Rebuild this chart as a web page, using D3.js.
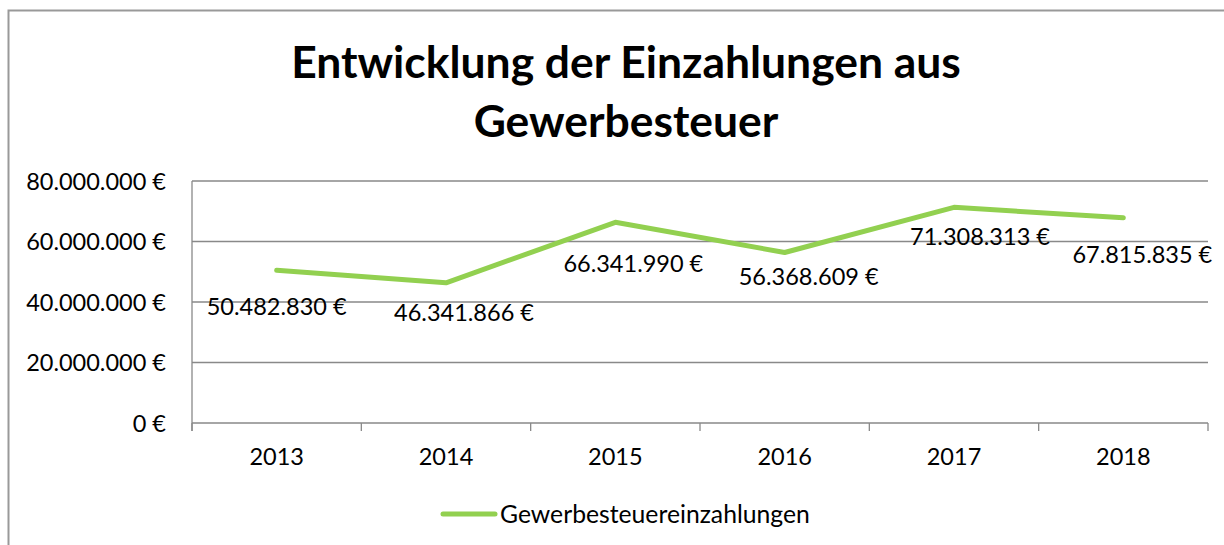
<!DOCTYPE html>
<html>
<head>
<meta charset="utf-8">
<script src="https://cdn.jsdelivr.net/npm/d3@7"></script>
<style>
  html, body { margin: 0; padding: 0; background: #fff; }
  svg { display: block; }
</style>
</head>
<body>
<svg id="chart" width="1224" height="545"></svg>
<script>
// ---- data ----
const titleLines = ["Entwicklung der Einzahlungen aus", "Gewerbesteuer"];
const seriesName = "Gewerbesteuereinzahlungen";
const years = ["2013", "2014", "2015", "2016", "2017", "2018"];
const values = [50482830, 46341866, 66341990, 56368609, 71308313, 67815835];
const yTicks = [0, 20000000, 40000000, 60000000, 80000000];

// ---- layout (label placement as in the reference, pixels) ----
const labelDx = [0, 18, 18, 24, 26, 19];
const labelDy = [45, 38, 50, 33, 38, 45];

const W = 1224, H = 545;
const plot = { left: 192, right: 1208, top: 181, bottom: 423 };
const FONT = "Lato, 'Noto Sans', sans-serif";
const gridColor = "#898989";
const lineColor = "#92d050";

const svg = d3.select("#chart");
svg.append("rect").attr("width", W).attr("height", H).attr("fill", "#fff");

const de = d3.formatLocale({ decimal: ",", thousands: ".", grouping: [3], currency: ["", " €"] });
const fmt = v => de.format(",.0f")(v) + " €";

// font size fitting helper
function fitSize(text, weight, target) {
  const t = svg.append("text").attr("font-family", FONT).attr("font-weight", weight)
    .attr("font-size", 100).text(text);
  const w = t.node().getComputedTextLength();
  t.remove();
  return 100 * target / w;
}
const bodySize = fitSize("50.482.830 €", "normal", 140);
const legendSize = fitSize(seriesName, "normal", 310);
const titleSize = fitSize(titleLines[0], "bold", 670);

// outer border
svg.append("rect").attr("x", 8.5).attr("y", 10.5).attr("width", 1400).attr("height", 700)
  .attr("fill", "none").attr("stroke", "#999").attr("stroke-width", 2);

// title
const titleY = [78, 137];
svg.append("g").selectAll("text").data(titleLines).join("text")
  .attr("x", 626).attr("y", (d, i) => titleY[i])
  .attr("text-anchor", "middle").attr("font-family", FONT).attr("font-weight", "bold")
  .attr("font-size", titleSize).attr("fill", "#000").text(d => d);

// scales
const x = d3.scalePoint().domain(years).range([plot.left, plot.right]).padding(0.5);
const band = d3.scaleBand().domain(years).range([plot.left, plot.right]);
const y = d3.scaleLinear().domain([0, 80000000]).range([plot.bottom, plot.top]);

// gridlines
svg.append("g").selectAll("line").data(yTicks.filter(d => d > 0)).join("line")
  .attr("x1", plot.left).attr("x2", plot.right)
  .attr("y1", d => y(d)).attr("y2", d => y(d))
  .attr("stroke", gridColor).attr("stroke-width", 1.3);

// y axis
const yAxis = svg.append("g").attr("transform", `translate(${plot.left},0)`)
  .call(d3.axisLeft(y).tickValues(yTicks).tickFormat(fmt).tickSize(0).tickPadding(26));
yAxis.select(".domain").remove();
yAxis.selectAll("text").attr("font-family", FONT).attr("font-size", bodySize)
  .attr("fill", "#000").attr("dy", "0.36em");
svg.append("line").attr("x1", plot.left).attr("x2", plot.left)
  .attr("y1", plot.top).attr("y2", plot.bottom + 8)
  .attr("stroke", gridColor).attr("stroke-width", 1.3);

// x axis
svg.append("line").attr("x1", plot.left).attr("x2", plot.right)
  .attr("y1", plot.bottom).attr("y2", plot.bottom)
  .attr("stroke", gridColor).attr("stroke-width", 1.3);
const tickXs = years.map(d => band(d)).concat([plot.right]);
svg.append("g").selectAll("line").data(tickXs).join("line")
  .attr("x1", d => d).attr("x2", d => d)
  .attr("y1", plot.bottom).attr("y2", plot.bottom + 8)
  .attr("stroke", gridColor).attr("stroke-width", 1.3);
svg.append("g").selectAll("text").data(years).join("text")
  .attr("x", d => x(d)).attr("y", 465)
  .attr("text-anchor", "middle").attr("font-family", FONT).attr("font-size", bodySize)
  .attr("fill", "#000").text(d => d);

// series line
const pts = years.map((yr, i) => ({ yr, v: values[i], i }));
svg.append("path").datum(pts)
  .attr("d", d3.line().x(d => x(d.yr)).y(d => y(d.v)))
  .attr("fill", "none").attr("stroke", lineColor).attr("stroke-width", 5)
  .attr("stroke-linejoin", "round").attr("stroke-linecap", "round");

// data labels
svg.append("g").selectAll("text").data(pts).join("text")
  .attr("x", d => x(d.yr) + labelDx[d.i]).attr("y", d => y(d.v) + labelDy[d.i])
  .attr("text-anchor", "middle").attr("font-family", FONT).attr("font-size", bodySize)
  .attr("fill", "#000").text(d => fmt(d.v));

// legend
svg.append("line").attr("x1", 443).attr("x2", 495).attr("y1", 514).attr("y2", 514)
  .attr("stroke", lineColor).attr("stroke-width", 5).attr("stroke-linecap", "round");
svg.append("text").attr("x", 500).attr("y", 522.5)
  .attr("font-family", FONT).attr("font-size", legendSize).attr("fill", "#000").text(seriesName);
</script>
</body>
</html>
